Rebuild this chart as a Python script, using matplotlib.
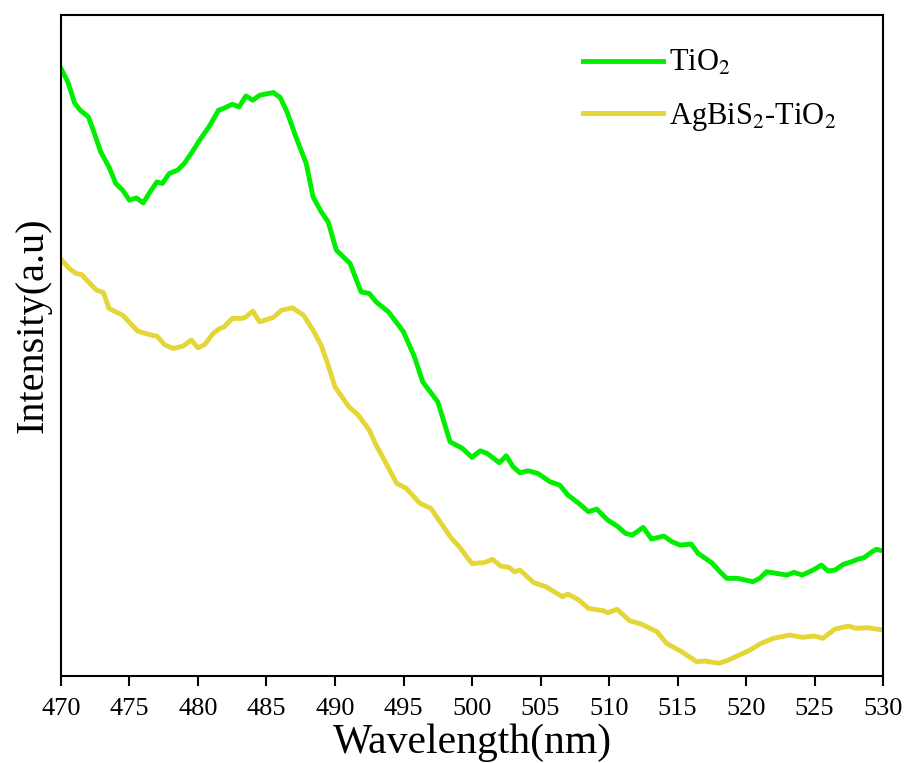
import matplotlib
matplotlib.use("Agg")
import matplotlib.pyplot as plt

plt.rcParams['font.family'] = ['Liberation Serif', 'DejaVu Serif']
plt.rcParams['mathtext.fontset'] = 'stix'

# PL spectra, wavelength in nm, intensity in arbitrary units
wl_tio2 = [470.0, 470.5, 471.0, 471.4, 472.0, 472.4, 472.9, 473.5, 474.0, 474.5,
           475.0, 475.5, 476.0, 476.5, 477.0, 477.4, 477.9, 478.5, 479.0, 479.5,
           480.2, 480.8, 481.5, 481.9, 482.5, 483.0, 483.5, 484.0, 484.5, 485.5,
           486.0, 486.5, 487.1, 487.9, 488.4, 489.0, 489.5, 490.1, 491.1, 491.9,
           492.5, 493.0, 493.9, 495.0, 495.8, 496.4, 497.5, 498.4, 499.3, 500.0,
           500.6, 501.1, 502.0, 502.5, 503.0, 503.5, 504.1, 504.8, 505.7, 506.4,
           507.0, 507.8, 508.5, 509.1, 509.9, 510.6, 511.2, 511.7, 512.5, 513.1,
           514.0, 514.6, 515.2, 516.0, 516.5, 517.5, 518.1, 518.6, 519.4, 520.5,
           521.0, 521.5, 522.2, 523.0, 523.5, 524.1, 524.9, 525.5, 526.0, 526.5,
           527.1, 527.7, 528.2, 528.6, 529.2, 529.5, 530.0]
int_tio2 = [607.7, 594.3, 573.0, 566.0, 559.3, 544.3, 524.3, 509.3, 492.7, 486.0,
            476.0, 478.3, 473.3, 484.3, 494.3, 492.7, 502.7, 506.0, 512.7, 522.7,
            537.7, 549.3, 566.0, 568.0, 572.0, 569.3, 580.3, 576.0, 581.0, 583.7,
            578.7, 564.3, 541.0, 512.7, 479.3, 464.3, 454.3, 426.0, 412.7, 384.3,
            382.7, 374.3, 364.3, 344.3, 319.3, 294.3, 274.3, 234.3, 227.7, 218.7,
            225.3, 222.7, 213.3, 220.3, 209.3, 203.3, 205.3, 202.7, 194.3, 191.0,
            181.0, 172.7, 164.3, 167.0, 156.0, 150.0, 142.7, 141.0, 148.7, 137.0,
            140.0, 134.3, 131.0, 132.0, 122.7, 113.3, 104.3, 97.7, 97.7, 94.3,
            97.7, 104.3, 102.7, 101.0, 103.7, 101.0, 106.0, 111.0, 105.0, 106.0,
            111.7, 114.3, 117.0, 118.3, 124.3, 126.7, 125.3]

wl_agbis2 = [470.0, 470.6, 471.1, 471.5, 472.0, 472.6, 473.1, 473.5, 474.5, 475.6,
             476.6, 477.0, 477.6, 478.2, 478.9, 479.5, 480.0, 480.5, 481.1, 481.6,
             481.9, 482.5, 483.2, 483.5, 484.0, 484.5, 485.5, 486.1, 486.9, 487.7,
             488.4, 489.0, 489.5, 490.0, 491.0, 491.7, 492.5, 493.0, 493.6, 494.5,
             495.2, 496.2, 497.0, 498.5, 499.0, 500.0, 500.9, 501.5, 502.1, 502.7,
             503.1, 503.5, 504.5, 505.4, 506.6, 507.0, 507.8, 508.5, 509.6, 509.9,
             510.6, 511.5, 512.4, 513.5, 514.2, 515.3, 516.4, 517.0, 518.0, 518.6,
             519.4, 520.3, 521.1, 522.0, 523.2, 524.1, 525.0, 525.6, 526.5, 527.5,
             528.0, 528.9, 530.0]
int_agbis2 = [417.0, 407.7, 402.7, 401.7, 394.3, 386.0, 383.7, 367.7, 361.0, 345.0,
              341.0, 340.0, 331.0, 327.7, 330.0, 336.0, 328.3, 331.7, 342.7, 347.7,
              349.3, 357.7, 357.7, 359.3, 365.0, 354.3, 358.7, 366.0, 368.3, 361.0,
              346.0, 330.5, 311.0, 289.3, 269.5, 261.0, 246.0, 231.0, 216.0, 192.7,
              187.7, 172.7, 167.7, 137.7, 130.5, 112.5, 113.5, 116.7, 110.0, 108.7,
              104.3, 106.0, 93.5, 89.3, 79.3, 82.0, 76.0, 67.7, 65.3, 63.3,
              66.7, 55.3, 51.7, 44.3, 32.7, 24.3, 14.3, 15.0, 12.7, 15.3,
              20.3, 26.0, 32.7, 37.7, 41.0, 38.7, 40.0, 37.7, 47.0, 50.0,
              47.7, 48.3, 46.0]

fig = plt.figure(figsize=(9.05, 7.63), dpi=100)
ax = fig.add_axes([0.0674, 0.114, 0.9083, 0.866])

ax.plot(wl_tio2, int_tio2, color='#00ee00', lw=3.5, label='TiO$_2$')
ax.plot(wl_agbis2, int_agbis2, color='#e5d637', lw=3.5, label='AgBiS$_2$-TiO$_2$')

ax.set_xlim(470, 530)
ax.set_ylim(0, 661)
ax.set_xticks(range(470, 531, 5))
ax.set_yticks([])
ax.tick_params(axis='x', direction='out', length=7, width=1.5, labelsize=19, pad=9)
for s in ax.spines.values():
    s.set_linewidth(1.5)

ax.set_xlabel('Wavelength(nm)', fontsize=30, labelpad=2)
ax.set_ylabel('Intensity(a.u)', fontsize=29)
ax.yaxis.set_label_coords(-0.012, 0.531)

ax.legend(loc='upper left', frameon=False, fontsize=22, handlelength=2.6,
          handletextpad=0.2, borderpad=0, labelspacing=0.75,
          bbox_to_anchor=(0.617, 0.972))

fig.savefig('out.png', dpi=100)
